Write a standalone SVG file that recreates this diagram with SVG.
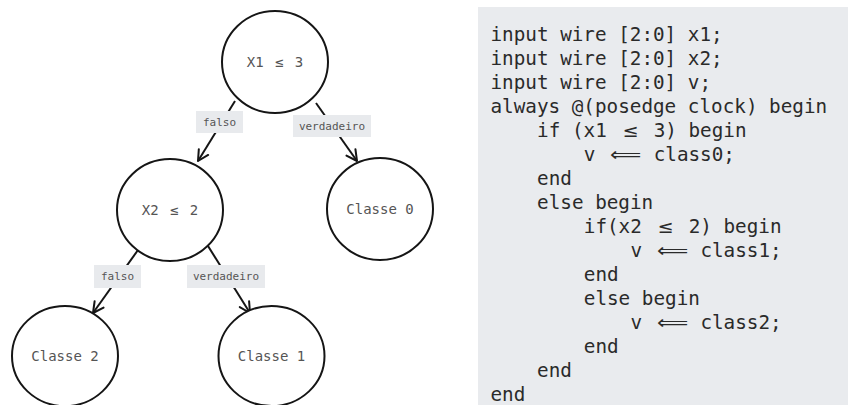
<svg xmlns="http://www.w3.org/2000/svg" width="848" height="405" viewBox="0 0 848 405">
<defs>
<style>
.node ellipse{fill:#fff;stroke:#151515;stroke-width:2}
.node text{font-family:"DejaVu Sans Mono","Liberation Mono",monospace;font-size:14px;fill:#555;text-anchor:middle}
.node text.cond{word-spacing:3px}
.edge line{stroke:#151515;stroke-width:2;marker-end:url(#arr)}
.lbl rect{fill:#e8eaed}
.lbl text{font-family:"DejaVu Sans Mono","Liberation Mono",monospace;font-size:11px;fill:#555;text-anchor:middle}
.code text{font-family:"DejaVu Sans Mono","Liberation Mono",monospace;font-size:19.3px;fill:#2a2a2a}
.code text.m{text-anchor:middle}
</style>
<marker id="arr" viewBox="0 0 14 14" refX="12" refY="7" markerWidth="14" markerHeight="14" orient="auto" markerUnits="userSpaceOnUse">
<path d="M1.5,1.5 L12,7 L1.5,12.5" fill="none" stroke="#151515" stroke-width="2" stroke-linecap="round" stroke-linejoin="round"/>
</marker>
</defs>
<rect width="848" height="405" fill="#fff"/>

<g id="connectors" class="edge">
<line x1="235" y1="101" x2="198" y2="161"/>
<line x1="316" y1="103" x2="357" y2="161"/>
<line x1="138" y1="250" x2="93" y2="313"/>
<line x1="208" y1="246" x2="250" y2="313"/>
</g>
<g id="edge-labels" class="lbl">
<rect x="196" y="111" width="47" height="22"/><text x="219.5" y="126">falso</text>
<rect x="293" y="115" width="78" height="22"/><text x="332" y="130">verdadeiro</text>
<rect x="94" y="265" width="47" height="23"/><text x="117.5" y="280">falso</text>
<rect x="187" y="265" width="78" height="23"/><text x="226" y="280">verdadeiro</text>
</g>

<g id="n-root" class="node"><ellipse cx="275" cy="62" rx="53" ry="51"/><text class="cond" x="275" y="67">X1 ≤ 3</text></g>
<g id="n-x2" class="node"><ellipse cx="170" cy="210" rx="53" ry="51"/><text class="cond" x="170" y="215">X2 ≤ 2</text></g>
<g id="n-c0" class="node"><ellipse cx="380" cy="209" rx="53" ry="51"/><text x="380" y="214">Classe 0</text></g>
<g id="n-c2" class="node"><ellipse cx="65" cy="356" rx="53" ry="50"/><text x="65" y="361">Classe 2</text></g>
<g id="n-c1" class="node"><ellipse cx="271.5" cy="356" rx="53" ry="50"/><text x="271.5" y="361">Classe 1</text></g>

<g id="code" class="code">
<rect x="478" y="7" width="370" height="398" fill="#e9ebee"/>
<text x="490.5" y="41">input wire [2:0] x1;</text>
<text x="490.5" y="65">input wire [2:0] x2;</text>
<text x="490.5" y="89">input wire [2:0] v;</text>
<text x="490.5" y="113">always @(posedge clock) begin</text>
<text x="537.1" y="137">if (x1</text>
<text x="630.4" y="137" class="m" textLength="14" lengthAdjust="spacingAndGlyphs">≤</text>
<text x="653.7" y="137">3) begin</text>
<text x="583.8" y="161">v</text>
<text x="625.9" y="161" class="m" textLength="31" lengthAdjust="spacingAndGlyphs">⟸</text>
<text x="653.7" y="161">class0;</text>
<text x="537.1" y="185">end</text>
<text x="537.1" y="209">else begin</text>
<text x="583.8" y="233">if(x2</text>
<text x="665.4" y="233" class="m" textLength="14" lengthAdjust="spacingAndGlyphs">≤</text>
<text x="688.7" y="233">2) begin</text>
<text x="630.4" y="257">v</text>
<text x="672.5" y="257" class="m" textLength="31" lengthAdjust="spacingAndGlyphs">⟸</text>
<text x="700.4" y="257">class1;</text>
<text x="583.8" y="281">end</text>
<text x="583.8" y="305">else begin</text>
<text x="630.4" y="329">v</text>
<text x="672.5" y="329" class="m" textLength="31" lengthAdjust="spacingAndGlyphs">⟸</text>
<text x="700.4" y="329">class2;</text>
<text x="583.8" y="353">end</text>
<text x="537.1" y="377">end</text>
<text x="490.5" y="401">end</text>
</g>
</svg>
